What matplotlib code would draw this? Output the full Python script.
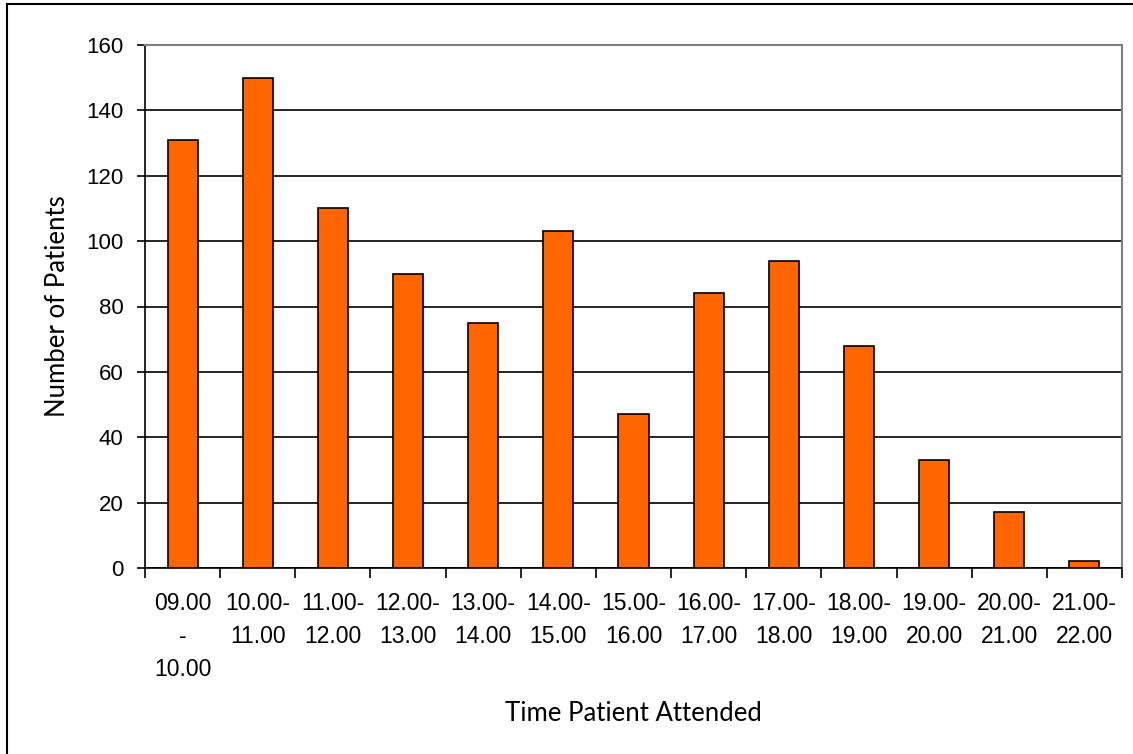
# Patients by time of attendance - Excel-style bar chart
import matplotlib
matplotlib.use("Agg")
import matplotlib.pyplot as plt
from matplotlib.patches import Rectangle
from matplotlib.ticker import FixedLocator

slots = ["09.00\n-\n10.00", "10.00-\n11.00", "11.00-\n12.00", "12.00-\n13.00",
         "13.00-\n14.00", "14.00-\n15.00", "15.00-\n16.00", "16.00-\n17.00",
         "17.00-\n18.00", "18.00-\n19.00", "19.00-\n20.00", "20.00-\n21.00",
         "21.00-\n22.00"]
patients = [131, 150, 110, 90, 75, 103, 47, 84, 94, 68, 33, 17, 2]
y_ticks = [0, 20, 40, 60, 80, 100, 120, 140, 160]

W, H = 1133, 754
fig = plt.figure(figsize=(W / 100, H / 100), dpi=100)
ax = fig.add_axes([145 / W, 1 - 568 / H, (1122 - 145) / W, (568 - 45) / H])

# outer chart frame (clipped at right/bottom like the source)
fig.patches.append(Rectangle((7 / W, -0.1), 1.2, 1.1 - 4 / H, transform=fig.transFigure,
                             fill=False, edgecolor="black", linewidth=1.5))

x = list(range(len(slots)))
ax.bar(x, patients, width=0.4, color="#FF6600", edgecolor="black", linewidth=1.2, zorder=3)

ax.set_xlim(-0.5, len(slots) - 0.5)
ax.set_ylim(0, 160)
ax.set_yticks(y_ticks)
ax.yaxis.grid(True, color="black", linewidth=1.2, zorder=0)
ax.set_axisbelow(True)

ax.set_xticks(x)
ax.set_xticklabels(slots, fontsize=16.5, family="Liberation Sans", linespacing=1.57)
ax.tick_params(axis="x", which="major", length=0, pad=17)
ax.xaxis.set_minor_locator(FixedLocator([i - 0.5 for i in range(len(slots) + 1)]))
ax.tick_params(axis="x", which="minor", length=7, width=1.2, direction="out")
ax.tick_params(axis="y", length=6, width=1.2, pad=9.5)
for lab in ax.get_yticklabels():
    lab.set_fontsize(16)
    lab.set_family("Liberation Sans")

for side in ["top", "right"]:
    ax.spines[side].set_color("#808080")
    ax.spines[side].set_linewidth(1.5)
for side in ["left", "bottom"]:
    ax.spines[side].set_color("black")
    ax.spines[side].set_linewidth(1.2)

ax.set_ylabel("Number of Patients", fontsize=18.5, family="Lato")
ax.yaxis.set_label_coords((70 - 145) / 977, 0.5)
ax.set_xlabel("Time Patient Attended", fontsize=18.5, family="Lato")
ax.xaxis.set_label_coords(0.5, (568 - 701) / 523)

fig.savefig("out.png", dpi=100)
